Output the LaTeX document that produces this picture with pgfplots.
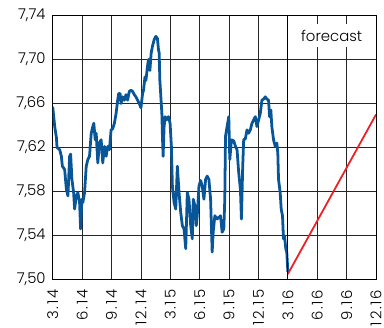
\documentclass[border=0pt]{standalone}
\usepackage{fontspec}
\setmainfont{Poppins Light}
\usepackage{pgfplots}
\pgfplotsset{compat=1.18}
\definecolor{rateblue}{RGB}{8,86,152}
\definecolor{fcred}{RGB}{236,32,38}
\begin{document}
\fontsize{15}{17}\selectfont
\begin{tikzpicture}
\begin{axis}[
  name=main,
  scale only axis,
  width=325bp, height=265.5bp,
  xmin=0, xmax=11, ymin=7.50, ymax=7.74,
  xtick={0,...,11},
  xticklabels={3.14,6.14,9.14,12.14,3.15,6.15,9.15,12.15,3.16,6.16,9.16,12.16},
  xticklabel style={rotate=90, anchor=east, xshift=-9bp, inner sep=1bp,
    font=\addfontfeature{LetterSpace=12}},
  ytick={7.50,7.54,...,7.75},
  /pgf/number format/fixed,
  /pgf/number format/fixed zerofill,
  /pgf/number format/precision=2,
  /pgf/number format/use comma,
  /pgf/number format/assume math mode=true,
  yticklabel style={xshift=-2bp},
  major tick length=0pt,
  grid=major,
  major grid style={black!85, line width=0.75pt},
  axis line style={black, line width=1pt},
  clip=true,
]
% quarterly exchange rate history
\addplot[rateblue, line width=2.8pt, line join=round] coordinates {
(0.000,7.657) (0.068,7.639) (0.125,7.629) (0.146,7.620) (0.237,7.618)
(0.294,7.612) (0.328,7.603) (0.406,7.600) (0.464,7.582) (0.518,7.576)
(0.575,7.612) (0.609,7.614) (0.653,7.591) (0.711,7.579) (0.745,7.564)
(0.802,7.576) (0.856,7.579) (0.914,7.570) (0.948,7.546) (0.992,7.573)
(1.025,7.570) (1.083,7.579) (1.140,7.603) (1.195,7.609) (1.252,7.612)
(1.310,7.633) (1.364,7.639) (1.398,7.642) (1.445,7.627) (1.479,7.633)
(1.533,7.606) (1.591,7.624) (1.648,7.627) (1.702,7.606) (1.760,7.621)
(1.817,7.612) (1.871,7.621) (1.929,7.618) (1.986,7.636) (2.041,7.637)
(2.098,7.642) (2.156,7.651) (2.210,7.663) (2.244,7.669) (2.291,7.669)
(2.325,7.660) (2.379,7.666) (2.437,7.663) (2.494,7.668) (2.548,7.663)
(2.606,7.671) (2.663,7.672) (2.717,7.671) (2.775,7.668) (2.832,7.666)
(2.887,7.663) (2.944,7.660) (3.002,7.656) (3.056,7.669) (3.090,7.672)
(3.137,7.684) (3.171,7.681) (3.225,7.694) (3.259,7.700) (3.306,7.690)
(3.350,7.706) (3.394,7.712) (3.452,7.718) (3.509,7.721) (3.563,7.719)
(3.597,7.709) (3.621,7.706) (3.645,7.681) (3.679,7.666) (3.713,7.651)
(3.733,7.630) (3.756,7.612) (3.790,7.639) (3.824,7.648) (3.868,7.645)
(3.936,7.648) (3.993,7.642) (4.037,7.621) (4.071,7.585) (4.129,7.570)
(4.186,7.564) (4.240,7.603) (4.298,7.579) (4.355,7.561) (4.410,7.549)
(4.467,7.546) (4.525,7.528) (4.579,7.579) (4.636,7.573) (4.694,7.549)
(4.748,7.537) (4.782,7.573) (4.839,7.567) (4.883,7.549) (4.917,7.558)
(4.975,7.585) (5.032,7.590) (5.086,7.585) (5.144,7.573) (5.201,7.591)
(5.255,7.594) (5.313,7.591) (5.371,7.573) (5.425,7.525) (5.459,7.543)
(5.516,7.558) (5.594,7.555) (5.709,7.558) (5.763,7.543) (5.821,7.546)
(5.854,7.573) (5.878,7.630) (5.932,7.639) (5.990,7.648) (6.024,7.609)
(6.081,7.627) (6.159,7.626) (6.217,7.621) (6.271,7.618) (6.328,7.597)
(6.386,7.582) (6.420,7.555) (6.464,7.603) (6.497,7.627) (6.555,7.628)
(6.609,7.636) (6.667,7.633) (6.724,7.636) (6.778,7.642) (6.836,7.645)
(6.893,7.648) (6.947,7.639) (7.005,7.645) (7.062,7.651) (7.117,7.663)
(7.174,7.664) (7.232,7.666) (7.286,7.664) (7.343,7.663) (7.377,7.648)
(7.421,7.654) (7.455,7.639) (7.513,7.627) (7.570,7.621) (7.624,7.624)
(7.658,7.615) (7.682,7.591) (7.739,7.579) (7.773,7.564) (7.817,7.558)
(7.851,7.537) (7.885,7.540) (7.929,7.528) (7.963,7.525) (8.000,7.507)
};
% forecast
\addplot[fcred, line width=1.8pt] coordinates {(8,7.505) (11,7.650)};
% start of forecast period
\draw[black, line width=1pt] (axis cs:8,7.50) -- (axis cs:8,7.74);
\node[fill=white, inner xsep=2bp, inner ysep=6bp] at (axis cs:9.49,7.7217) {forecast};
\end{axis}
\pgfresetboundingbox
\useasboundingbox ([xshift=-53bp,yshift=-48bp]main.south west) rectangle ([xshift=8bp,yshift=15.5bp]main.north east);
\end{tikzpicture}
\end{document}
